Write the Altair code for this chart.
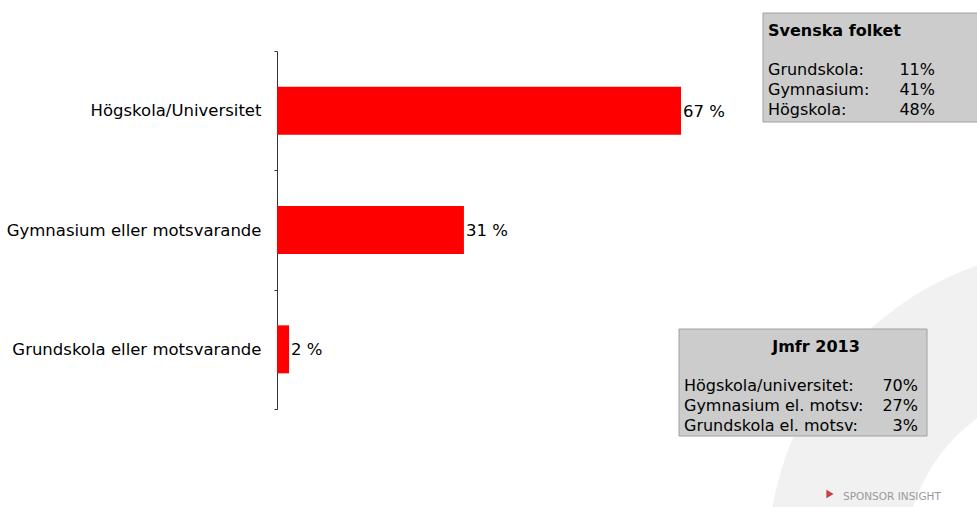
import altair as alt
import pandas as pd

categories = ["Högskola/Universitet", "Gymnasium eller motsvarande", "Grundskola eller motsvarande"]
values = [67, 31, 2]

sv_title = "Svenska folket"
sv_labels = ["Grundskola:", "Gymnasium:", "Högskola:"]
sv_values = ["11%", "41%", "48%"]

jm_title = "Jmfr 2013"
jm_labels = ["Högskola/universitet:", "Gymnasium el. motsv:", "Grundskola el. motsv:"]
jm_values = ["70%", "27%", "3%"]

logo_text = "SPONSOR INSIGHT"

FONT = "DejaVu Sans"
FS = 16.5

df = pd.DataFrame({"cat": categories, "val": values})
df["lab"] = [f"{v} %" for v in values]

one = pd.DataFrame({"a": [0]})

# faint background swoosh
swoosh = alt.Chart(one).mark_arc(color="#f1f1f1", theta=4.45, theta2=6.2, innerRadius=175, outerRadius=312).encode(
    x=alt.value(803), y=alt.value(509)
)

bars = alt.Chart(df).mark_bar(color="#ff0000", size=48).encode(
    x=alt.X("val:Q", scale=alt.Scale(domain=[0, 100]), axis=None),
    y=alt.Y("cat:N", sort=categories, title=None,
            scale=alt.Scale(paddingInner=0, paddingOuter=0),
            axis=alt.Axis(tickBand="extent", tickSize=3, labelFontSize=FS, labelFont=FONT,
                          labelColor="#000000", labelPadding=13, domainColor="#333333",
                          tickColor="#333333", labelLimit=300)),
)
labels = alt.Chart(df).mark_text(align="left", baseline="middle", dx=2, dy=1, fontSize=FS, font=FONT, color="#000000").encode(
    x="val:Q", y=alt.Y("cat:N", sort=categories), text="lab:N"
)

# Svenska folket box
sv_box = alt.Chart(one).mark_rect(fill="#cccccc", stroke="#a0a0a0", strokeWidth=1).encode(
    x=alt.value(486), x2=alt.value(705), y=alt.value(-38), y2=alt.value(71)
)
sv_t = alt.Chart(one).mark_text(align="left", baseline="alphabetic", fontSize=16, fontWeight="bold", font=FONT, color="#000").encode(
    x=alt.value(491), y=alt.value(-15), text=alt.value(sv_title)
)
sv_l = alt.Chart(one).mark_text(align="left", baseline="alphabetic", fontSize=16, font=FONT, color="#000", lineHeight=20).encode(
    x=alt.value(491), y=alt.value(24), text=alt.value(sv_labels)
)
sv_v = alt.Chart(one).mark_text(align="right", baseline="alphabetic", fontSize=16, font=FONT, color="#000", lineHeight=20).encode(
    x=alt.value(658), y=alt.value(24), text=alt.value(sv_values)
)

# Jmfr box
jm_box = alt.Chart(one).mark_rect(fill="#cccccc", stroke="#a0a0a0", strokeWidth=1).encode(
    x=alt.value(402), x2=alt.value(650), y=alt.value(278), y2=alt.value(385)
)
jm_t = alt.Chart(one).mark_text(align="center", baseline="alphabetic", fontSize=16, fontWeight="bold", font=FONT, color="#000").encode(
    x=alt.value(539), y=alt.value(301), text=alt.value(jm_title)
)
jm_l = alt.Chart(one).mark_text(align="left", baseline="alphabetic", fontSize=16, font=FONT, color="#000", lineHeight=20).encode(
    x=alt.value(407), y=alt.value(340), text=alt.value(jm_labels)
)
jm_v = alt.Chart(one).mark_text(align="right", baseline="alphabetic", fontSize=16, font=FONT, color="#000", lineHeight=20).encode(
    x=alt.value(641), y=alt.value(340), text=alt.value(jm_values)
)

logo_icon = alt.Chart(one).mark_point(shape="triangle-right", filled=True, color="#c0202a", size=70, opacity=0.85).encode(
    x=alt.value(553), y=alt.value(443)
)
logo = alt.Chart(one).mark_text(align="left", baseline="middle", fontSize=10.5, font=FONT, color="#9a9a9a").encode(
    x=alt.value(566), y=alt.value(446), text=alt.value(logo_text)
)

chart = alt.layer(
    swoosh, bars, labels, sv_box, sv_t, sv_l, sv_v, jm_box, jm_t, jm_l, jm_v, logo_icon, logo
).properties(
    width=603, height=358,
    autosize=alt.AutoSizeParams(type="none"),
    padding={"left": 277, "top": 51, "right": 97, "bottom": 98},
    background="#ffffff",
).configure_view(stroke=None, clip=False)

chart.save("out.html", embed_options={"renderer": "svg", "actions": False})
